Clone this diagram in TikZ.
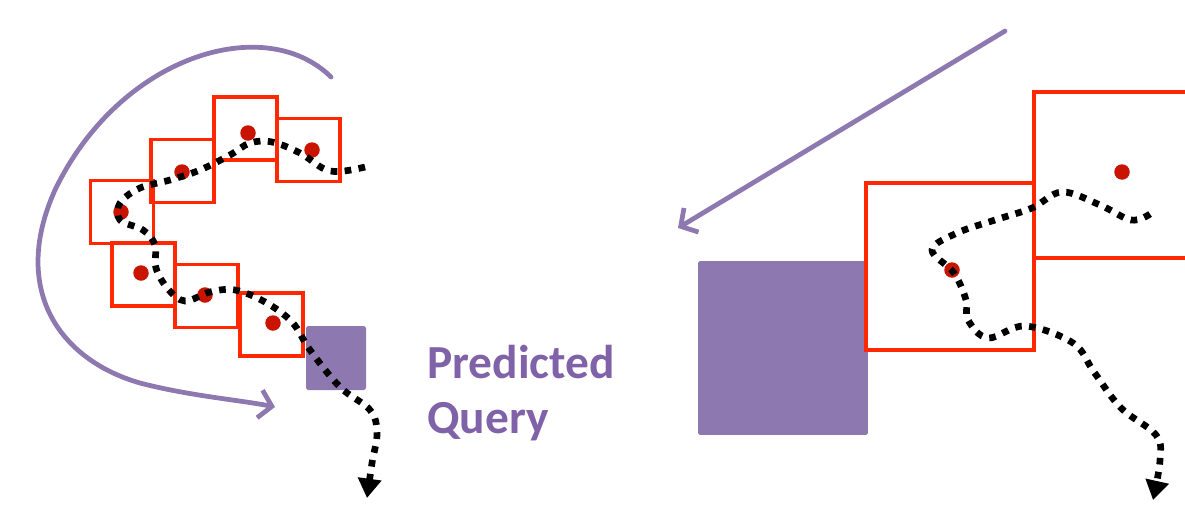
\documentclass[tikz,border=0pt]{standalone}
\usepackage{fontspec}
\setmainfont{Carlito}
\usetikzlibrary{arrows.meta}

\definecolor{qpurple}{RGB}{142,120,176}
\definecolor{txtpurple}{RGB}{128,98,168}
\definecolor{winred}{RGB}{255,40,0}
\definecolor{ptred}{RGB}{200,20,0}

\tikzstyle{win}=[rectangle, draw=winred, line width=1.9pt, minimum size=1.26cm, inner sep=0pt]
\tikzstyle{pt}=[circle, fill=ptred, minimum size=0.31cm, inner sep=0pt]
\tikzstyle{qbox}=[rectangle, fill=qpurple, rounded corners=1pt, inner sep=0pt]
\tikzstyle{track}=[line width=3.8pt, dash pattern=on 3.8pt off 4.2pt, -{Triangle[length=11pt,width=13pt]}]
\tikzstyle{rev}=[qpurple, line width=2.7pt, line cap=round, -{Straight Barb[length=7pt,width=16pt]}]

\begin{document}
\begin{tikzpicture}[x=0.02cm, y=-0.02cm]
\useasboundingbox (0,0) rectangle (1185,504);
\clip (0,0) rectangle (1185,504);

% left: query square and windows along the past track
\node[qbox, minimum width=1.2cm, minimum height=1.28cm] (qs) at (336,358) {};

\node[win] (w1) at (245.5,128.5) {};
\node[win] (w2) at (308.5,150) {};
\node[win] (w3) at (182.5,171) {};
\node[win] (w4) at (122,212) {};
\node[win] (w5) at (143.5,274.5) {};
\node[win] (w6) at (206.5,296) {};
\node[win] (w7) at (271.5,324.5) {};

\node[pt] (p1) at (248,133) {};
\node[pt] (p2) at (312,150) {};
\node[pt] (p3) at (182,172) {};
\node[pt] (p4) at (121,212) {};
\node[pt] (p5) at (141,273) {};
\node[pt] (p6) at (205,295) {};
\node[pt] (p7) at (273,323) {};

\draw[track] plot[smooth, tension=0.6] coordinates {(365,167) (330,171) (300,153) (272,142) (250,143)
  (230,155) (200,170) (170,180) (140,188) (120,203) (120,220) (143,230) (155,245) (156,268)
  (168,289) (185,301) (210,292) (235,290) (265,302) (292,322) (310,350) (340,387) (370,410)
  (377,433) (372,463) (367,498)};

% reversal arrow
\coordinate (rs) at (331,77);
\coordinate (re) at (275,407);
\draw[rev] (rs) .. controls (265,12) and (120,55) .. (55,190)
  .. controls (10,290) and (60,360) .. (140,383)
  .. controls (190,396) and (240,400) .. (re);

\node[txtpurple, font=\bfseries\fontsize{27}{31}\selectfont, align=left, anchor=north west, inner sep=0pt] (lbl) at (427,345) {Predicted\\Query};

% right: zoomed view
\coordinate (zs) at (1005,31);
\coordinate (ze) at (678,228);
\draw[rev] (zs) -- (ze);

\node[qbox, minimum width=3.4cm, minimum height=3.48cm] (qb) at (783,348) {};
\node[win, minimum width=3.36cm, minimum height=3.34cm] (wb1) at (950,266.5) {};
\node[win, minimum width=3.36cm, minimum height=3.32cm] (wb2) at (1118,175) {};

\node[pt] (pb1) at (1122,172) {};
\node[pt] (pb2) at (952,270) {};

\draw[track] plot[smooth, tension=0.6] coordinates {(1150,214) (1131,220) (1100,205) (1062,192)
  (1032,208) (995,220) (957,233) (932,250) (954,273) (966,300) (968,320) (988,338) (1025,326)
  (1073,343) (1094,372) (1121,408) (1156,435) (1160,460) (1153,500)};

\end{tikzpicture}
\end{document}
